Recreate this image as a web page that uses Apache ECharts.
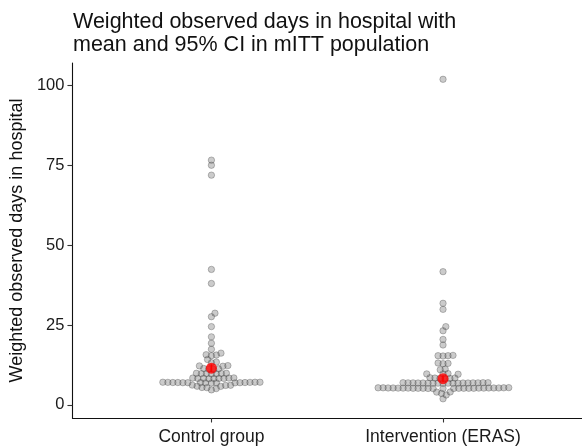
<!DOCTYPE html>
<html>
<head>
<meta charset="utf-8">
<script src="https://cdn.jsdelivr.net/npm/echarts@6/dist/echarts.min.js"></script>
<style>
html,body{margin:0;padding:0;background:#fff;}
#chart{width:582px;height:446px;}
</style>
</head>
<body>
<div id="chart"></div>
<script>
// ---- data ----
const categories = ['Control group', 'Intervention (ERAS)'];
const controlValues = [
  4.7, 5.1, 5.4, 5.45, 5.8, 5.85, 6.1, 6.15, 6.2,
  6.85, 6.9, 6.9, 6.9, 6.95, 6.95, 6.95, 7.0, 7.0, 7.0, 7.0, 7.05, 7.05, 7.1, 7.1, 7.1,
  8.2, 8.25, 8.3, 8.3, 8.3, 8.35, 8.4, 8.4, 8.45,
  9.7, 9.75, 9.8, 9.8, 9.85, 9.9, 9.9,
  11.1, 11.2, 11.3, 11.4, 12.1, 12.2, 12.3, 13.2, 13.4, 14.2,
  15.4, 15.6, 15.7, 16.2,
  17.4, 19.3, 21.3, 24.5, 27.6, 28.7, 38.0, 42.4, 71.9, 75.0, 76.6
];
const interventionValues = [
  1.9, 3.1, 3.6, 4.0, 4.05,
  5.1, 5.1, 5.15, 5.15, 5.2, 5.2, 5.2, 5.2, 5.2, 5.2, 5.2, 5.25, 5.25, 5.25, 5.25, 5.25, 5.3, 5.3, 5.3, 5.3, 5.3, 5.35, 5.35, 5.35, 5.4,
  6.75, 6.8, 6.8, 6.8, 6.8, 6.8, 6.8, 6.85, 6.85, 6.85, 6.85, 6.9, 6.9, 6.9, 6.9, 6.95, 6.95, 6.95,
  8.2, 8.3, 8.3, 8.4, 8.4, 8.5,
  9.6, 9.7, 9.7, 9.8, 11.0, 11.2,
  12.9, 13.0, 13.1, 15.3, 15.4, 15.4, 15.5,
  18.75, 20.5, 23.2, 24.5, 29.9, 31.8, 41.7, 101.9
];
const groupMeans = [11.5, 8.2];
const ciLower = [10.3, 7.1];
const ciUpper = [12.7, 9.3];
const yTickValues = [0, 25, 50, 75, 100];
const titleText = 'Weighted observed days in hospital with\nmean and 95% CI in mITT population';
const yAxisTitle = 'Weighted observed days in hospital';

// ---- chart ----
const chart = echarts.init(document.getElementById('chart'), null, {renderer: 'canvas'});
const FONT = '"Liberation Sans", Arial, sans-serif';
const baseOption = {
  animation: false,
  backgroundColor: '#ffffff',
  title: {
    text: titleText,
    left: 68, top: 5,
    textStyle: {fontFamily: FONT, fontSize: 21.5, fontWeight: 'normal', color: '#111', lineHeight: 23.5}
  },
  grid: {left: 72, right: 0, top: 63, bottom: 27.5, containLabel: false},
  xAxis: {
    type: 'value', min: 0.4, max: 2.6,
    splitLine: {show: false},
    axisLine: {show: true, onZero: false, lineStyle: {color: '#111', width: 1.1}},
    axisTick: {show: true, inside: false, customValues: [1, 2], length: 4.5, lineStyle: {color: '#333', width: 1.1}},
    axisLabel: {
      customValues: [1, 2], margin: 10,
      formatter: v => categories[Math.round(v) - 1] || '',
      fontFamily: FONT, fontSize: 17.5, color: '#1a1a1a'
    }
  },
  yAxis: {
    type: 'value', min: -4.1, max: 107,
    name: yAxisTitle, nameLocation: 'middle', nameGap: 45,
    nameTextStyle: {fontFamily: FONT, fontSize: 18, color: '#111'},
    splitLine: {show: false},
    axisLine: {show: true, onZero: false, lineStyle: {color: '#111', width: 1.1}},
    axisTick: {show: true, inside: false, customValues: yTickValues, length: 5, lineStyle: {color: '#333', width: 1.1}},
    axisLabel: {customValues: yTickValues, margin: 8, fontFamily: FONT, fontSize: 16.5, color: '#1a1a1a'}
  },
  series: []
};
chart.setOption(baseOption);

// beeswarm layout (ascending priority), computed in pixel space
function swarm(pys, d) {
  const order = pys.map((_, i) => i).sort((a, b) => pys[b] - pys[a]);
  const placed = [];
  const xs = new Array(pys.length);
  for (const i of order) {
    const y = pys[i];
    const near = placed.filter(p => Math.abs(p.y - y) < d);
    const cands = [0];
    near.forEach(p => {
      const dx = Math.sqrt(d * d - (p.y - y) * (p.y - y));
      cands.push(p.x + dx, p.x - dx);
    });
    cands.sort((a, b) => (Math.abs(a) - Math.abs(b)) || (b - a));
    let best = 0;
    for (const c of cands) {
      if (near.every(p => (p.x - c) * (p.x - c) + (p.y - y) * (p.y - y) >= d * d - 1e-6)) { best = c; break; }
    }
    xs[i] = best;
    placed.push({x: best, y: y});
  }
  return xs;
}

const pxPerX = chart.convertToPixel({gridIndex: 0}, [2, 0])[0] - chart.convertToPixel({gridIndex: 0}, [1, 0])[0];
function swarmData(values, center) {
  const pys = values.map(v => chart.convertToPixel({gridIndex: 0}, [center, v])[1]);
  const offs = swarm(pys, 5.0);
  return values.map((v, i) => [center + offs[i] / pxPerX, v]);
}

const pointStyle = {color: 'rgba(100,100,100,0.42)', borderColor: 'rgba(60,60,60,0.5)', borderWidth: 0.8};

chart.setOption({
  series: [
    {type: 'scatter', name: categories[0], data: swarmData(controlValues, 1), symbolSize: 6.4, itemStyle: pointStyle, z: 2},
    {type: 'scatter', name: categories[1], data: swarmData(interventionValues, 2), symbolSize: 6.4, itemStyle: pointStyle, z: 2},
    {
      type: 'custom', name: 'CI', z: 3,
      data: groupMeans.map((m, i) => [i + 1, ciLower[i], ciUpper[i]]),
      renderItem: function (params, api) {
        const lo = api.coord([api.value(0), api.value(1)]);
        const hi = api.coord([api.value(0), api.value(2)]);
        return {type: 'line', shape: {x1: lo[0], y1: lo[1], x2: hi[0], y2: hi[1]}, style: {stroke: '#ff0000', lineWidth: 1.5}};
      }
    },
    {type: 'scatter', name: 'Mean', data: groupMeans.map((m, i) => [i + 1, m]), symbolSize: 11, itemStyle: {color: '#ff0000'}, z: 4}
  ]
});
</script>
</body>
</html>
